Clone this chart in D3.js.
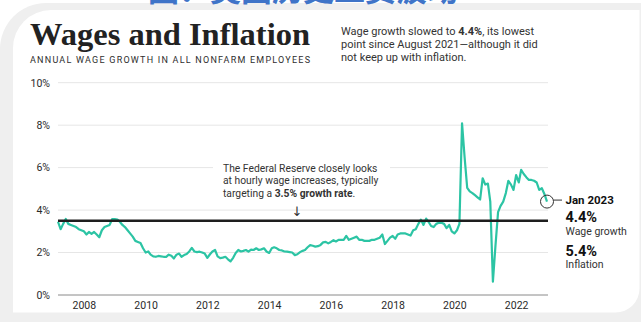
<!DOCTYPE html>
<html>
<head>
<meta charset="utf-8">
<script src="https://cdn.jsdelivr.net/npm/d3@7"></script>
<style>
  html, body { margin: 0; padding: 0; background: #fff; }
  svg { display: block; }
</style>
</head>
<body>
<svg id="chart" width="641" height="322"></svg>
<script>
// Year-over-year growth of average hourly earnings, all nonfarm employees (%)
// Monthly, starting March 2007 and ending January 2023.
const firstYear = 2007;
const firstMonthIndex = 2; // March
const wage2007 = [3.45, 3.1, 3.35, 3.58, 3.35, 3.3, 3.25, 3.2, 3.1, 3.05];
const wage2008 = [3.0, 2.85, 2.97, 2.88, 2.97, 2.85, 2.72, 3.05, 3.2, 3.25, 3.3, 3.58];
const wage2009 = [3.57, 3.55, 3.45, 3.3, 3.2, 3.05, 2.9, 2.75, 2.55, 2.5, 2.45, 2.2];
const wage2010 = [2.0, 2.05, 1.9, 1.82, 1.8, 1.84, 1.82, 1.8, 1.8, 1.9, 1.85, 1.72];
const wage2011 = [1.9, 1.95, 1.8, 1.88, 1.93, 2.05, 2.22, 2.05, 2.02, 2.04, 2.0, 1.95];
const wage2012 = [1.75, 1.92, 2.05, 2.12, 1.82, 1.74, 1.76, 1.8, 1.68, 1.58, 1.75, 1.98];
const wage2013 = [2.12, 2.05, 2.08, 2.12, 2.04, 2.14, 2.12, 2.2, 2.12, 2.15, 2.2, 2.05];
const wage2014 = [1.98, 2.2, 2.25, 2.2, 2.12, 2.1, 2.05, 2.04, 2.02, 2.0, 1.88, 1.92];
const wage2015 = [2.02, 2.08, 2.12, 2.25, 2.35, 2.32, 2.28, 2.3, 2.36, 2.48, 2.5, 2.43];
const wage2016 = [2.5, 2.58, 2.52, 2.6, 2.6, 2.6, 2.78, 2.6, 2.65, 2.7, 2.75, 2.6];
const wage2017 = [2.6, 2.55, 2.55, 2.55, 2.6, 2.6, 2.65, 2.7, 2.85, 2.4, 2.55, 2.7];
const wage2018 = [2.78, 2.65, 2.85, 2.9, 2.9, 2.9, 2.85, 2.8, 3.05, 3.1, 3.35, 3.55];
const wage2019 = [3.3, 3.6, 3.45, 3.25, 3.2, 3.35, 3.4, 3.4, 3.35, 3.15, 3.3, 3.0];
const wage2020 = [2.9, 3.05, 3.35, 8.09, 6.5, 5.05, 4.88, 4.8, 4.7, 4.6, 4.5, 5.5];
const wage2021 = [5.2, 5.25, 4.4, 0.63, 2.3, 3.9, 4.2, 4.4, 4.8, 5.38, 5.2, 4.95];
const wage2022 = [5.65, 5.3, 5.89, 5.7, 5.55, 5.42, 5.42, 5.38, 5.3, 4.95, 5.03, 4.76];
const wage2023 = [4.4];

const fedTarget = 3.5;
const yTicks = [0, 2, 4, 6, 8, 10];
const xTickYears = [2008, 2010, 2012, 2014, 2016, 2018, 2020, 2022];

const latestLabel = "Jan 2023";
const latestWage = 4.4;
const latestInflation = 5.4;

const wageGrowth = [].concat(
  wage2007, wage2008, wage2009, wage2010, wage2011, wage2012, wage2013, wage2014,
  wage2015, wage2016, wage2017, wage2018, wage2019, wage2020, wage2021, wage2022, wage2023
);
const series = wageGrowth.map((v, i) => ({
  date: new Date(firstYear, firstMonthIndex + i, 1),
  value: v
}));

const svg = d3.select("#chart");
const W = 641, H = 322;
const sans = "Roboto, 'Noto Sans', Arial, sans-serif";
const ink = "#2a2a2a";

// ---- frame: light gray ring with a white card inside ----
function cardPath(x0, y0, x1, y1, rTL, rBR) {
  return `M${x0},${y0 + rTL} A${rTL},${rTL} 0 0 1 ${x0 + rTL},${y0} L${x1},${y0} ` +
         `L${x1},${y1 - rBR} A${rBR},${rBR} 0 0 1 ${x1 - rBR},${y1} L${x0},${y1} Z`;
}
svg.append("rect").attr("width", W).attr("height", H).attr("fill", "#fff");
svg.append("path").attr("d", cardPath(0, 3, 660, 340, 46, 0)).attr("fill", "#efefef");
svg.append("path").attr("d", cardPath(13, 10, 639.5, 312.5, 38, 24)).attr("fill", "#fff");

// ---- header caption (cut at the top edge) ----
svg.append("text")
  .attr("x", 148).attr("y", 0.5)
  .attr("font-family", "'Noto Sans CJK SC', sans-serif")
  .attr("font-weight", 700)
  .attr("font-size", 31)
  .attr("fill", "#3f74c8")
  .text("图：美国历史工资波动");

// ---- titles ----
svg.append("text")
  .attr("x", 30).attr("y", 45)
  .attr("font-family", "'Liberation Serif', 'Times New Roman', serif")
  .attr("font-weight", 700)
  .attr("font-size", 32.5)
  .attr("fill", "#222")
  .attr("textLength", 280)
  .attr("lengthAdjust", "spacingAndGlyphs")
  .text("Wages and Inflation");

svg.append("text")
  .attr("x", 30).attr("y", 62.5)
  .attr("font-family", sans)
  .attr("font-size", 9)
  .attr("fill", "#2e2e2e")
  .attr("textLength", 280)
  .attr("lengthAdjust", "spacing")
  .text("ANNUAL WAGE GROWTH IN ALL NONFARM EMPLOYEES");

const intro = svg.append("text")
  .attr("font-family", sans)
  .attr("font-size", 11)
  .attr("fill", "#333");
const introLines = [
  [["Wage growth slowed to ", 400], ["4.4%", 700], [", its lowest", 400]],
  [["point since August 2021\u2014although it did", 400]],
  [["not keep up with inflation.", 400]]
];
introLines.forEach((parts, li) => {
  parts.forEach((p, pi) => {
    const t = intro.append("tspan").attr("font-weight", p[1]).text(p[0]);
    if (pi === 0) t.attr("x", 341).attr("y", 34.5 + li * 13.3);
  });
});

// ---- scales ----
const x = d3.scaleTime()
  .domain([new Date(2007, 2, 1), new Date(2023, 0, 1)])
  .range([58, 547]);
const y = d3.scaleLinear().domain([0, 10]).range([295, 82.7]);
const gridX0 = 58, gridX1 = 548;

// gridlines
svg.append("g")
  .selectAll("line")
  .data(yTicks.filter(d => d > 0))
  .join("line")
  .attr("x1", gridX0).attr("x2", gridX1)
  .attr("y1", d => y(d)).attr("y2", d => y(d))
  .attr("stroke", "#e6e6e6").attr("stroke-width", 1);

// baseline at 0%
svg.append("line")
  .attr("x1", gridX0).attr("x2", gridX1)
  .attr("y1", y(0)).attr("y2", y(0))
  .attr("stroke", "#8a8a8a").attr("stroke-width", 1);

// y axis labels
const yAxis = svg.append("g")
  .attr("transform", `translate(${gridX0},0)`)
  .call(d3.axisLeft(y).tickValues(yTicks).tickSize(0).tickPadding(8).tickFormat(d => d + "%"));
yAxis.select(".domain").remove();
yAxis.selectAll("text")
  .attr("font-family", sans).attr("font-size", 10.5).attr("fill", ink);

// x axis labels
const xAxis = svg.append("g")
  .attr("transform", `translate(0,${y(0)})`)
  .call(d3.axisBottom(x)
    .tickValues(xTickYears.map(yr => new Date(yr, 0, 1)))
    .tickSize(0).tickPadding(7)
    .tickFormat(d3.timeFormat("%Y")));
xAxis.select(".domain").remove();
xAxis.selectAll("text")
  .attr("font-family", sans).attr("font-size", 10.5).attr("fill", ink);

// ---- Fed target annotation ----
svg.append("rect")
  .attr("x", 213).attr("y", 157).attr("width", 177).attr("height", 44)
  .attr("fill", "#fff");
const note = svg.append("text")
  .attr("font-family", sans)
  .attr("font-size", 10.3)
  .attr("fill", "#333");
const noteLines = [
  [["The Federal Reserve closely looks", 400]],
  [["at hourly wage increases, typically", 400]],
  [["targeting a ", 400], ["3.5% growth rate", 700], [".", 400]]
];
noteLines.forEach((parts, li) => {
  parts.forEach((p, pi) => {
    const t = note.append("tspan").attr("font-weight", p[1]).text(p[0]);
    if (pi === 0) t.attr("x", 223).attr("y", 171.5 + li * 12.5);
  });
});
svg.append("text")
  .attr("x", 297).attr("y", 216)
  .attr("text-anchor", "middle")
  .attr("font-family", "'DejaVu Sans', sans-serif")
  .attr("font-size", 13)
  .attr("fill", "#333")
  .text("\u2193");

// ---- wage growth line ----
svg.append("path")
  .datum(series)
  .attr("fill", "none")
  .attr("stroke", "#2cc4a4")
  .attr("stroke-width", 2.2)
  .attr("stroke-linejoin", "round")
  .attr("d", d3.line().x(d => x(d.date)).y(d => y(d.value)));

// 3.5% target line
svg.append("line")
  .attr("x1", gridX0).attr("x2", gridX1)
  .attr("y1", y(fedTarget)).attr("y2", y(fedTarget))
  .attr("stroke", "#1e1e1e").attr("stroke-width", 2.4);

// ---- latest value callout ----
const last = series[series.length - 1];
const cx = x(last.date), cy = y(last.value);
svg.append("circle")
  .attr("cx", cx).attr("cy", cy).attr("r", 6.5)
  .attr("fill", "none").attr("stroke", "#333").attr("stroke-width", 1);
svg.append("line")
  .attr("x1", cx + 6.5).attr("x2", cx + 15)
  .attr("y1", cy - 1.5).attr("y2", cy - 1.5)
  .attr("stroke", "#333").attr("stroke-width", 1);

const callX = 565.5;
const callout = [
  { text: latestLabel, size: 11.5, weight: 700, y: 203.5, fill: "#111" },
  { text: d3.format(".1f")(latestWage) + "%", size: 14.5, weight: 700, y: 222, fill: "#111" },
  { text: "Wage growth", size: 10.5, weight: 400, y: 234.5, fill: "#333" },
  { text: d3.format(".1f")(latestInflation) + "%", size: 14.5, weight: 700, y: 255.5, fill: "#111" },
  { text: "Inflation", size: 10.5, weight: 400, y: 268, fill: "#333" }
];
svg.append("g")
  .selectAll("text")
  .data(callout)
  .join("text")
  .attr("x", callX)
  .attr("y", d => d.y)
  .attr("font-family", sans)
  .attr("font-size", d => d.size)
  .attr("font-weight", d => d.weight)
  .attr("fill", d => d.fill)
  .text(d => d.text);
</script>
</body>
</html>
